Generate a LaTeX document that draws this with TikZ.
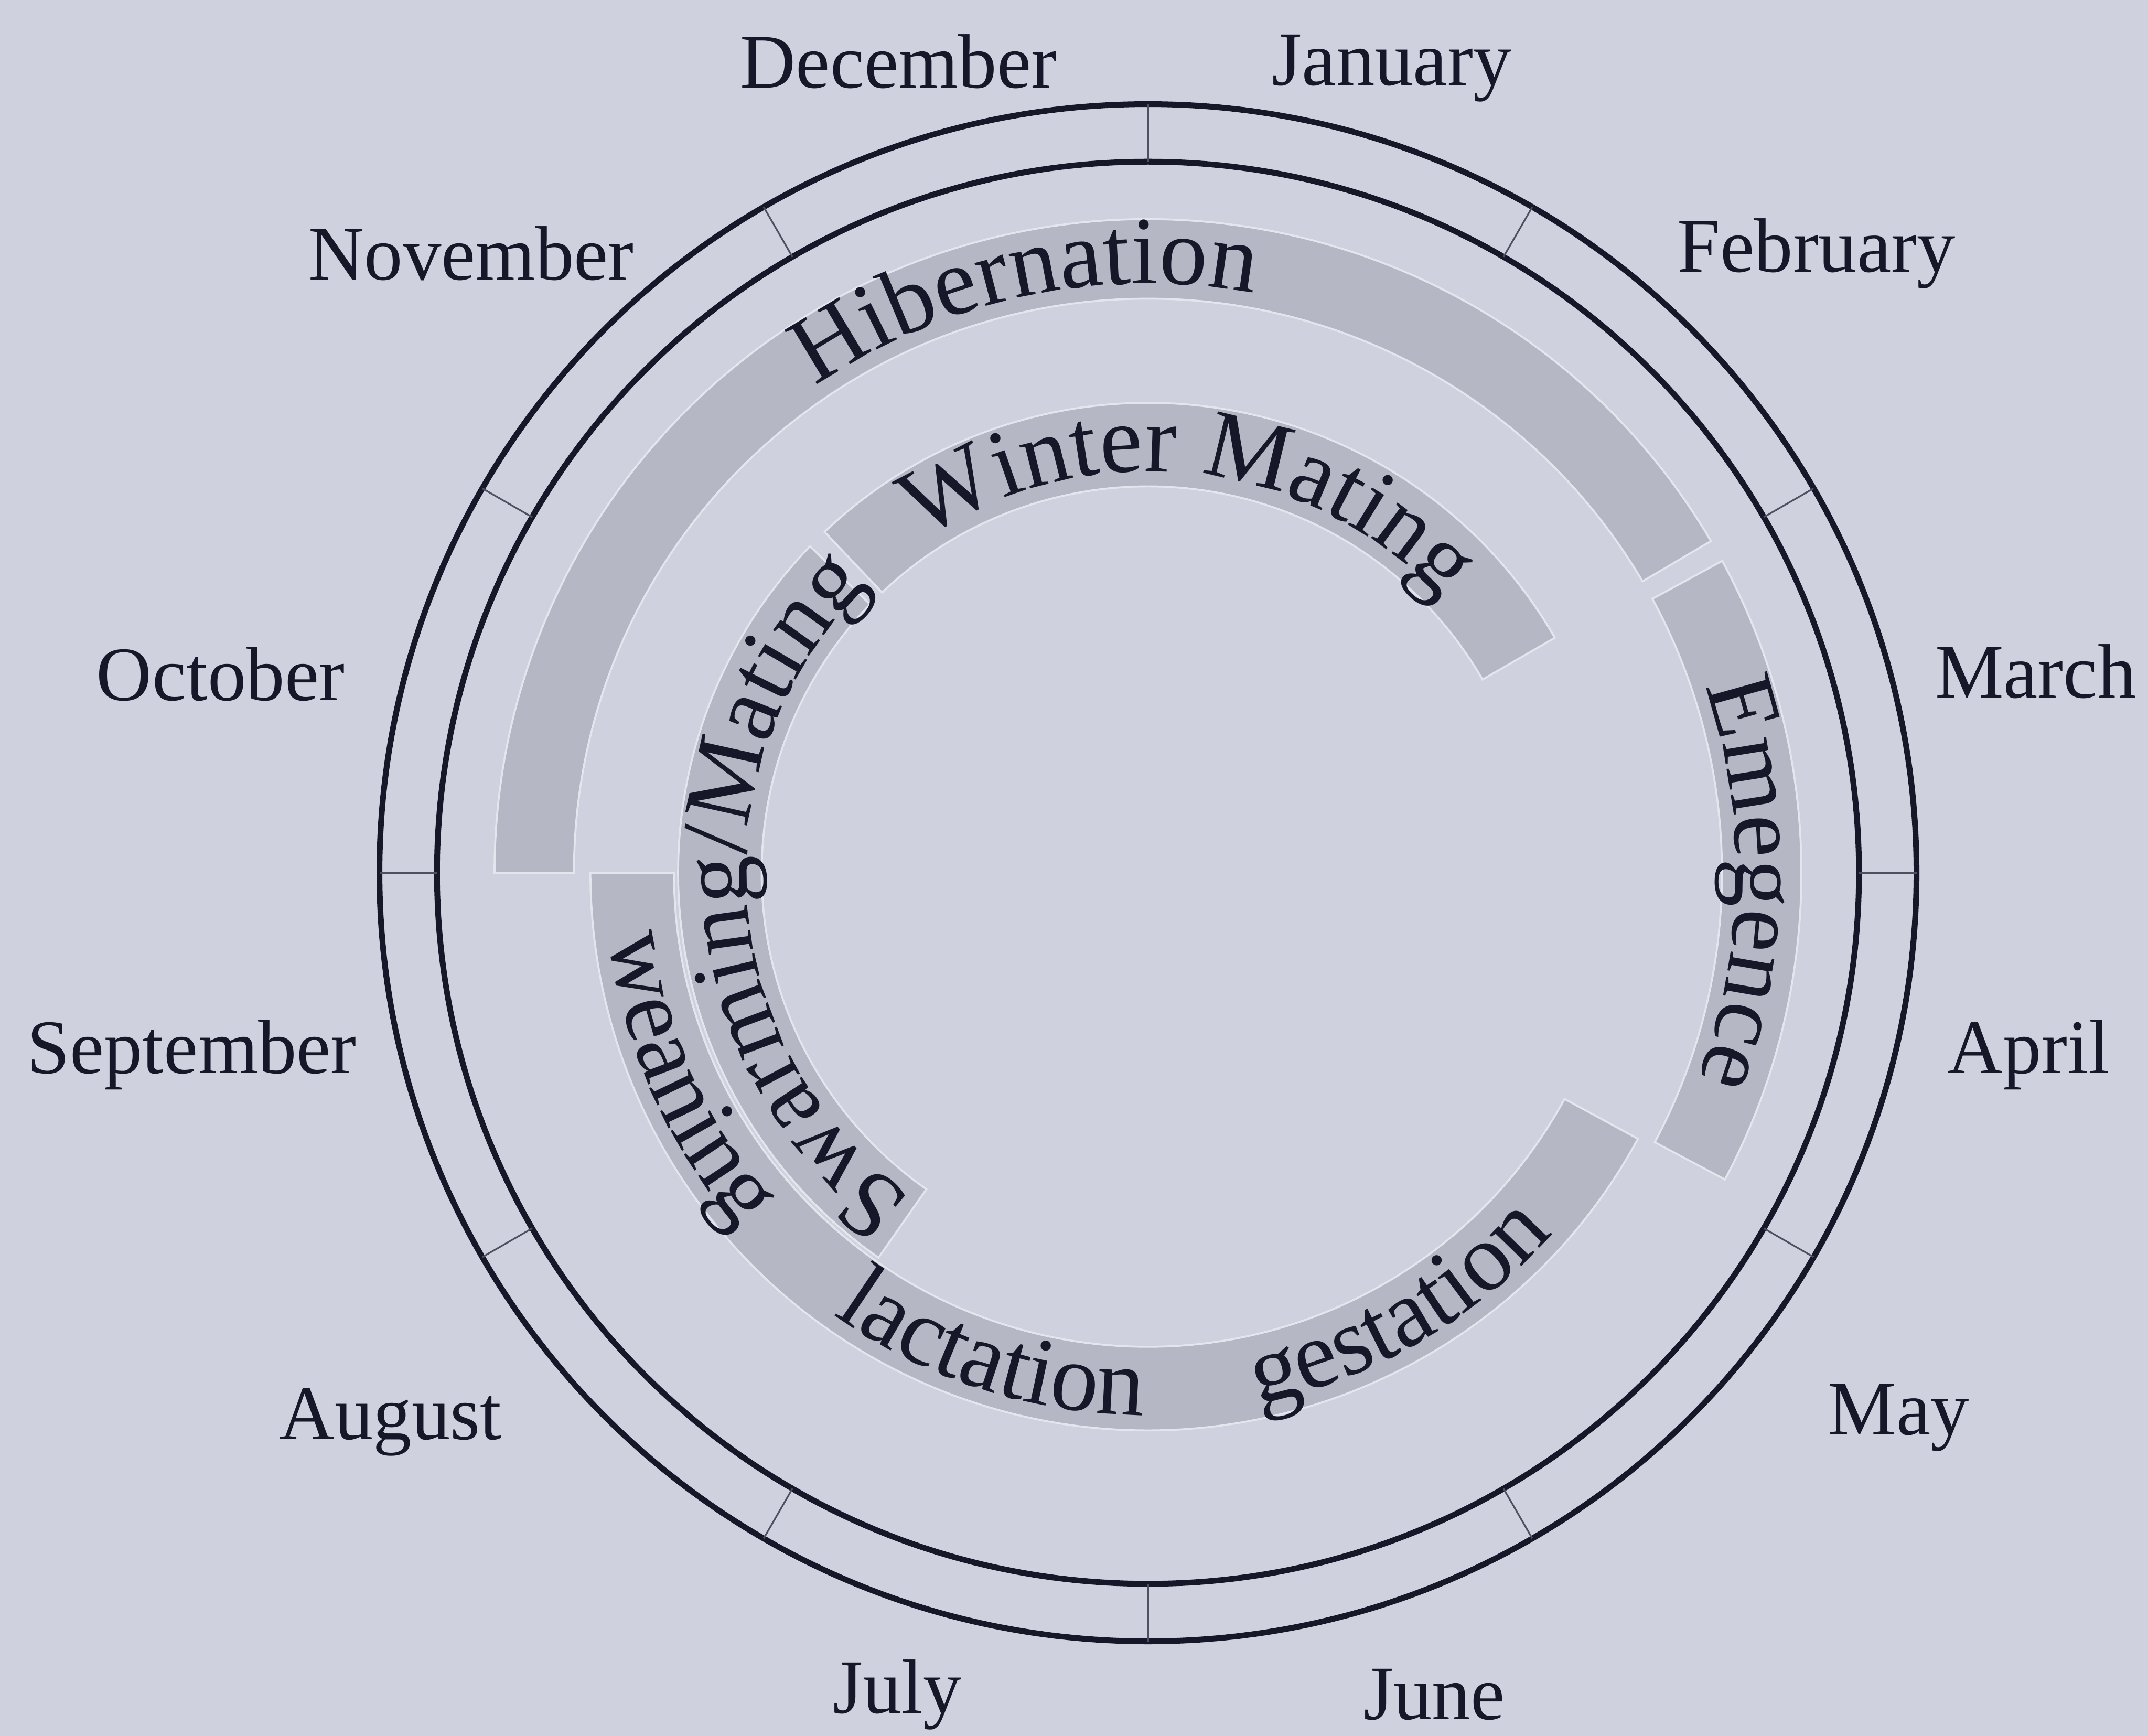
\documentclass[tikz,border=0pt]{standalone}
\usepackage{fontspec}
\setmainfont{Liberation Serif}
\usetikzlibrary{decorations.text}

\definecolor{bgcol}{RGB}{207,209,223}
\definecolor{bandcol}{RGB}{181,183,197}
\definecolor{ink}{RGB}{22,24,42}

\newcommand{\bandfont}{\fontsize{20}{24}\selectfont}

\begin{document}
\begin{tikzpicture}
\tikzstyle{month} = [font=\fontsize{16}{19}\selectfont, text=ink, inner sep=0pt]
\tikzstyle{ring} = [draw=ink, line width=1.2pt]
\tikzstyle{tick} = [draw=ink!70!bgcol, line width=0.35pt]
\tikzstyle{band} = [fill=bandcol, draw=white!45!bgcol, line width=0.4pt]
\tikzstyle{phase} = [decorate, decoration={text along path, text align=center, text color=ink}]

\fill[bgcol] (-8.38,-6.30) rectangle (7.30,6.37);
\useasboundingbox (-8.38,-6.30) rectangle (7.30,6.37);

% outer band: hibernation and emergence
\draw[band] (180:4.19) arc[start angle=180, end angle=30.5, radius=4.19] -- (30.5:4.77) arc[start angle=30.5, end angle=180, radius=4.77] -- cycle;
\draw[band] (28.5:4.19) arc[start angle=28.5, end angle=-28, radius=4.19] -- (-28:4.77) arc[start angle=-28, end angle=28.5, radius=4.77] -- cycle;
% middle band: weaning, lactation, gestation
\draw[band] (180:3.46) arc[start angle=180, end angle=331.5, radius=3.46] -- (331.5:4.07) arc[start angle=331.5, end angle=180, radius=4.07] -- cycle;
% inner band: mating
\draw[band] (133.5:2.82) arc[start angle=133.5, end angle=30, radius=2.82] -- (30:3.43) arc[start angle=30, end angle=133.5, radius=3.43] -- cycle;
\draw[band] (136:2.82) arc[start angle=136, end angle=235, radius=2.82] -- (235:3.43) arc[start angle=235, end angle=136, radius=3.43] -- cycle;

% phase names
\path[phase, decoration={text={|\bandfont|Hibernation}}] (150:4.30) arc[start angle=150, end angle=54, radius=4.30];
\path[phase, decoration={text={|\bandfont|Emegence}}] (30:4.29) arc[start angle=30, end angle=-32, radius=4.29];
\path[phase, decoration={text={|\bandfont|Winter Mating}}] (140:2.93) arc[start angle=140, end angle=27, radius=2.93];
\path[phase, decoration={text={|\bandfont|Swarming/Mating}}] (250:2.93) arc[start angle=250, end angle=118, radius=2.93];
\path[phase, decoration={text={|\bandfont|weaning}}] (180:3.96) arc[start angle=180, end angle=228, radius=3.96];
\path[phase, decoration={text={|\bandfont|lactation}}] (226:3.96) arc[start angle=226, end angle=278, radius=3.96];
\path[phase, decoration={text={|\bandfont|gestation}}] (272:3.96) arc[start angle=272, end angle=328, radius=3.96];

% calendar rings
\draw[ring] (0,0) circle[radius=5.61];
\draw[ring] (0,0) circle[radius=5.19];
\foreach \a in {0,30,...,330}
  \draw[tick] (\a:5.19) -- (\a:5.61);

% months
\node[month] (jan) at (1.78,5.87) {January};
\node[month] (feb) at (4.88,4.52) {February};
\node[month] (mar) at (6.48,1.47) {March};
\node[month] (apr) at (6.43,-1.33) {April};
\node[month] (may) at (5.48,-3.98) {May};
\node[month] (jun) at (2.09,-6.00) {June};
\node[month] (jul) at (-1.83,-6.00) {July};
\node[month] (aug) at (-5.53,-4.01) {August};
\node[month] (sep) at (-6.98,-1.33) {September};
\node[month] (oct) at (-6.77,1.45) {October};
\node[month] (nov) at (-4.94,4.52) {November};
\node[month] (dec) at (-1.82,5.92) {December};
\end{tikzpicture}
\end{document}
